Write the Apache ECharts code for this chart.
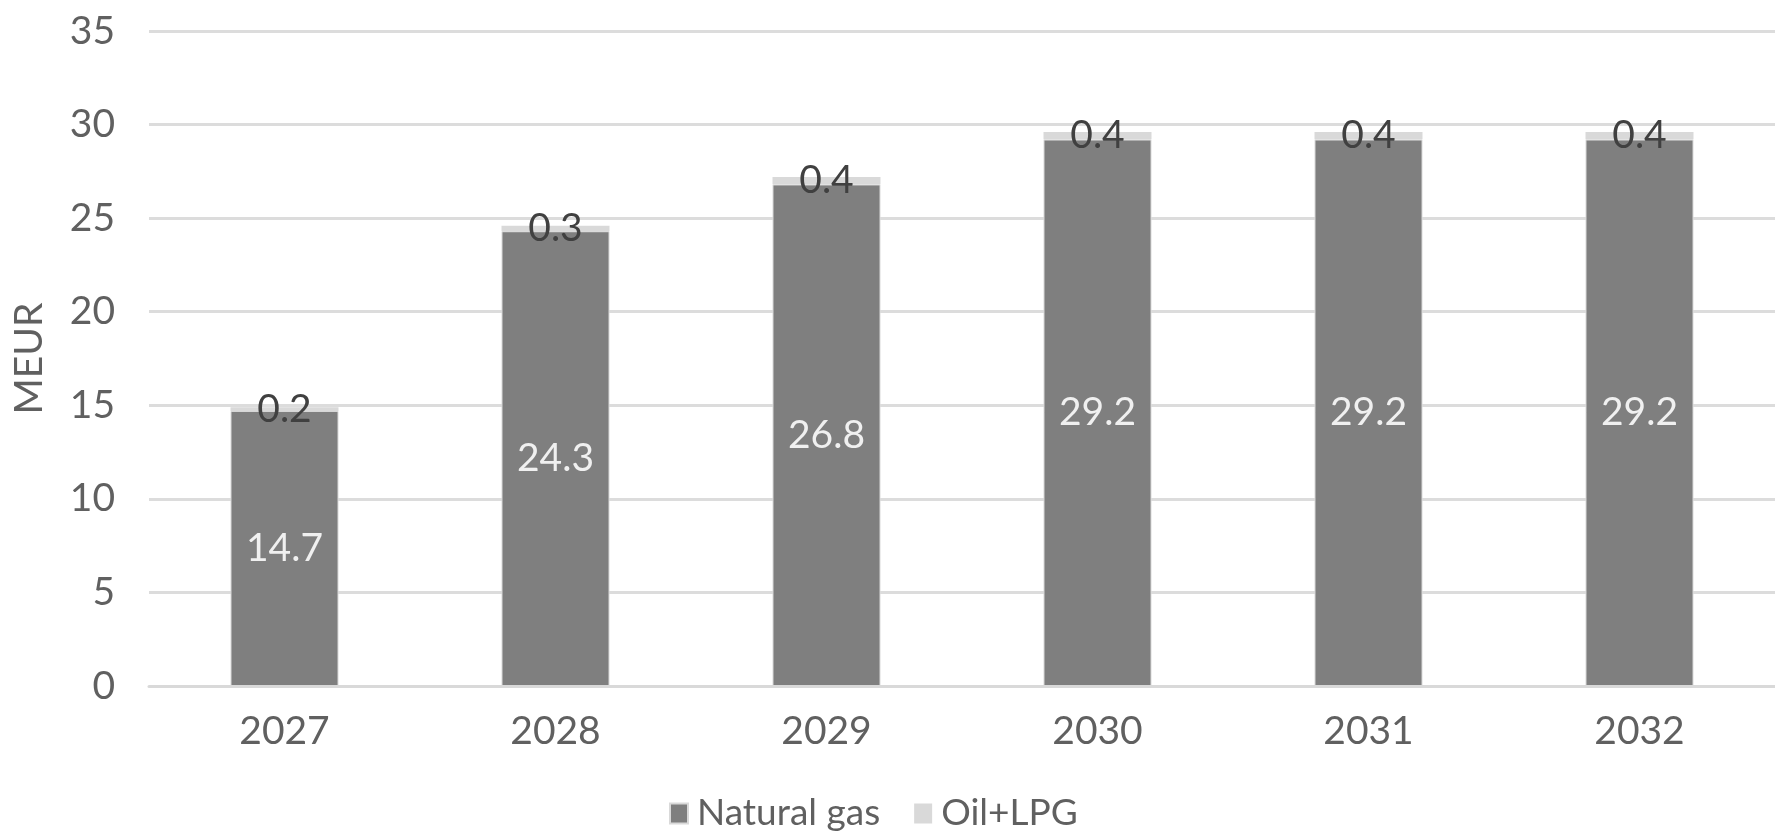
<!DOCTYPE html>
<html>
<head>
<meta charset="utf-8">
<script src="https://cdn.jsdelivr.net/npm/echarts@6/dist/echarts.min.js"></script>
<style>
html,body{margin:0;padding:0;background:#fff;}
#chart{width:1775px;height:837px;}
</style>
</head>
<body>
<div id="chart"></div>
<script>
const categories = ['2027', '2028', '2029', '2030', '2031', '2032'];
const naturalGas = [14.7, 24.3, 26.8, 29.2, 29.2, 29.2];
const oilLpg = [0.2, 0.3, 0.4, 0.4, 0.4, 0.4];
const seriesNames = ['Natural gas', 'Oil+LPG'];
const yAxisName = 'MEUR';

const FONT = 'Lato, "Open Sans", sans-serif';
const chart = echarts.init(document.getElementById('chart'), null, {renderer: 'canvas'});
chart.setOption({
  animation: false,
  backgroundColor: '#ffffff',
  textStyle: {fontFamily: FONT},
  grid: {left: 149, right: -18, top: 31, bottom: 151, containLabel: false},
  legend: {
    left: 664, bottom: 0,
    icon: 'rect', itemWidth: 18, itemHeight: 20, itemGap: 34,
    textStyle: {fontSize: 37, color: '#606060', fontFamily: FONT, padding: [0, 0, 0, 4]},
    data: seriesNames
  },
  xAxis: {
    type: 'category',
    data: categories,
    axisLine: {show: true, lineStyle: {color: '#d9d9d9', width: 3}},
    axisTick: {show: false},
    axisLabel: {fontSize: 39, color: '#606060', margin: 26, fontFamily: FONT}
  },
  yAxis: {
    type: 'value',
    min: 0, max: 35, interval: 5,
    name: yAxisName,
    nameLocation: 'middle',
    nameGap: 100,
    nameTextStyle: {fontSize: 39, color: '#606060', fontFamily: FONT},
    axisLine: {show: false},
    axisTick: {show: false},
    axisLabel: {fontSize: 39, color: '#606060', margin: 34, fontFamily: FONT},
    splitLine: {lineStyle: {color: '#dcdcdc', width: 3}}
  },
  series: [
    {
      name: seriesNames[0],
      type: 'bar',
      stack: 'total',
      data: naturalGas,
      barWidth: 108,
      itemStyle: {color: '#7f7f7f', borderColor: '#d9d9d9', borderWidth: 1},
      label: {show: true, position: 'inside', fontSize: 39, color: '#f0f0f0', fontFamily: FONT}
    },
    {
      name: seriesNames[1],
      type: 'bar',
      stack: 'total',
      data: oilLpg,
      barWidth: 108,
      itemStyle: {color: '#d9d9d9'},
      label: {show: true, position: 'inside', fontSize: 39, color: '#404040', fontFamily: FONT}
    }
  ]
});
</script>
</body>
</html>
